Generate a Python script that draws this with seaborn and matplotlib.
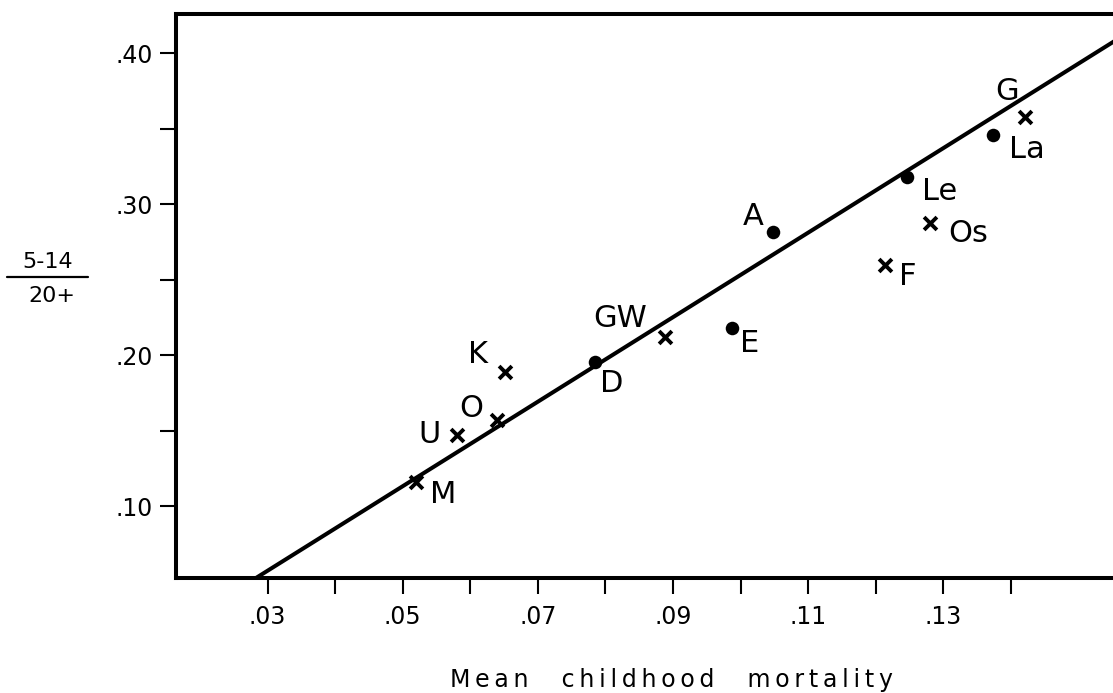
import numpy as np
import pandas as pd
import matplotlib
matplotlib.use("Agg")
import matplotlib.pyplot as plt
from matplotlib.lines import Line2D
import seaborn as sns

# Population groups: mean childhood mortality vs ratio of 5-14 year olds to adults 20+
LABELS = ["M", "U", "O", "K", "D", "GW", "E", "A", "F", "Le", "Os", "La", "G"]
MORTALITY = [0.0520, 0.0580, 0.0639, 0.0651, 0.0784, 0.0888, 0.0987, 0.1048,
             0.1214, 0.1246, 0.1280, 0.1374, 0.1421]
RATIO = [0.1162, 0.1473, 0.1572, 0.1890, 0.1956, 0.2121, 0.2181, 0.2816,
         0.2598, 0.3180, 0.2875, 0.3458, 0.3577]
KIND = ["cross", "cross", "cross", "cross", "dot", "cross", "dot", "dot",
        "cross", "dot", "cross", "dot", "cross"]

# Fitted line y = a + b x
FIT_INTERCEPT = -0.0263
FIT_SLOPE = 2.795

X_MAJOR = [0.03, 0.05, 0.07, 0.09, 0.11, 0.13]
X_MAJOR_LABELS = [".03", ".05", ".07", ".09", ".11", ".13"]
X_MINOR = [0.04, 0.06, 0.08, 0.10, 0.12, 0.14]
Y_MAJOR = [0.10, 0.20, 0.30, 0.40]
Y_MAJOR_LABELS = [".10", ".20", ".30", ".40"]
Y_MINOR = [0.15, 0.25, 0.35]

# label placement (pixels from the marker to the text baseline centre)
LABEL_OFFSETS = {
    "M": (27, -21), "U": (-27, -8), "O": (-25, 3), "K": (-27, 9),
    "D": (17, -30), "GW": (-45, 10), "E": (18, -24), "A": (-20, 7),
    "F": (23, -20), "Le": (33, -23), "Os": (38, -19), "La": (34, -23),
    "G": (-18, 17),
}

df = pd.DataFrame({"label": LABELS, "mortality": MORTALITY,
                   "ratio": RATIO, "kind": KIND})

sns.set_theme(style="ticks")
plt.rcParams["font.family"] = ["DejaVu Sans"]

W, H = 1113, 693
fig = plt.figure(figsize=(W / 100, H / 100), dpi=100)
ax = fig.add_axes([176 / W, (H - 578) / H, (1164 - 176) / W, (578 - 14) / H])

XLIM = (0.01643, 0.16267)
YLIM = (0.0527, 0.4258)
ax.set_xlim(*XLIM)
ax.set_ylim(*YLIM)

# fitted line from the bottom of the frame to the right edge
x0 = (YLIM[0] - FIT_INTERCEPT) / FIT_SLOPE
line_x = np.array([x0, XLIM[1]])
line_y = FIT_INTERCEPT + FIT_SLOPE * line_x
sns.lineplot(x=line_x, y=line_y, ax=ax, color="black", linewidth=2.9)

dots = df[df["kind"] == "dot"]
crosses = df[df["kind"] == "cross"]
sns.scatterplot(data=dots, x="mortality", y="ratio", ax=ax, color="black",
                marker="o", s=95, linewidth=0, zorder=3)
sns.scatterplot(data=crosses, x="mortality", y="ratio", ax=ax, color="black",
                marker="x", s=85, linewidth=2.8, zorder=3)

for _, row in df.iterrows():
    dx, dy = LABEL_OFFSETS[row["label"]]
    ax.annotate(row["label"], (row["mortality"], row["ratio"]),
                xytext=(dx, dy), textcoords="offset pixels",
                ha="center", va="baseline", fontsize=22, color="black")

# axes frame: open on the right
for side in ("top", "left", "bottom"):
    ax.spines[side].set_linewidth(2.9)
    ax.spines[side].set_color("black")
ax.spines["right"].set_visible(False)

ax.set_xticks(X_MAJOR)
ax.set_xticklabels(X_MAJOR_LABELS)
ax.set_xticks(X_MINOR, minor=True)
ax.set_yticks(Y_MAJOR)
ax.set_yticklabels(Y_MAJOR_LABELS)
ax.set_yticks(Y_MINOR, minor=True)
ax.tick_params(axis="both", which="both", direction="out", length=11.5,
               width=1.5, color="black", labelsize=17, labelcolor="black")
ax.tick_params(axis="x", which="both", pad=8)
ax.tick_params(axis="y", which="both", pad=5)

words = ["Mean", "childhood", "mortality"]
xlabel = "\u2009\u2003\u2009".join("\u2009".join(w) for w in words)
ax.set_xlabel(xlabel, fontsize=17, color="black")
ax.xaxis.set_label_coords(0.502, -0.160)
ax.set_ylabel("")

# y-axis label written as a fraction
fig.text(48 / W, (H - 262) / H, "5-14", fontsize=16, ha="center",
         va="center", color="black")
fig.text(52 / W, (H - 296) / H, "20+", fontsize=16, ha="center",
         va="center", color="black")
fig.add_artist(Line2D([7 / W, 88 / W], [(H - 277) / H, (H - 277) / H],
                      color="black", linewidth=1.6))

fig.savefig("out.png", dpi=100, facecolor="white")
